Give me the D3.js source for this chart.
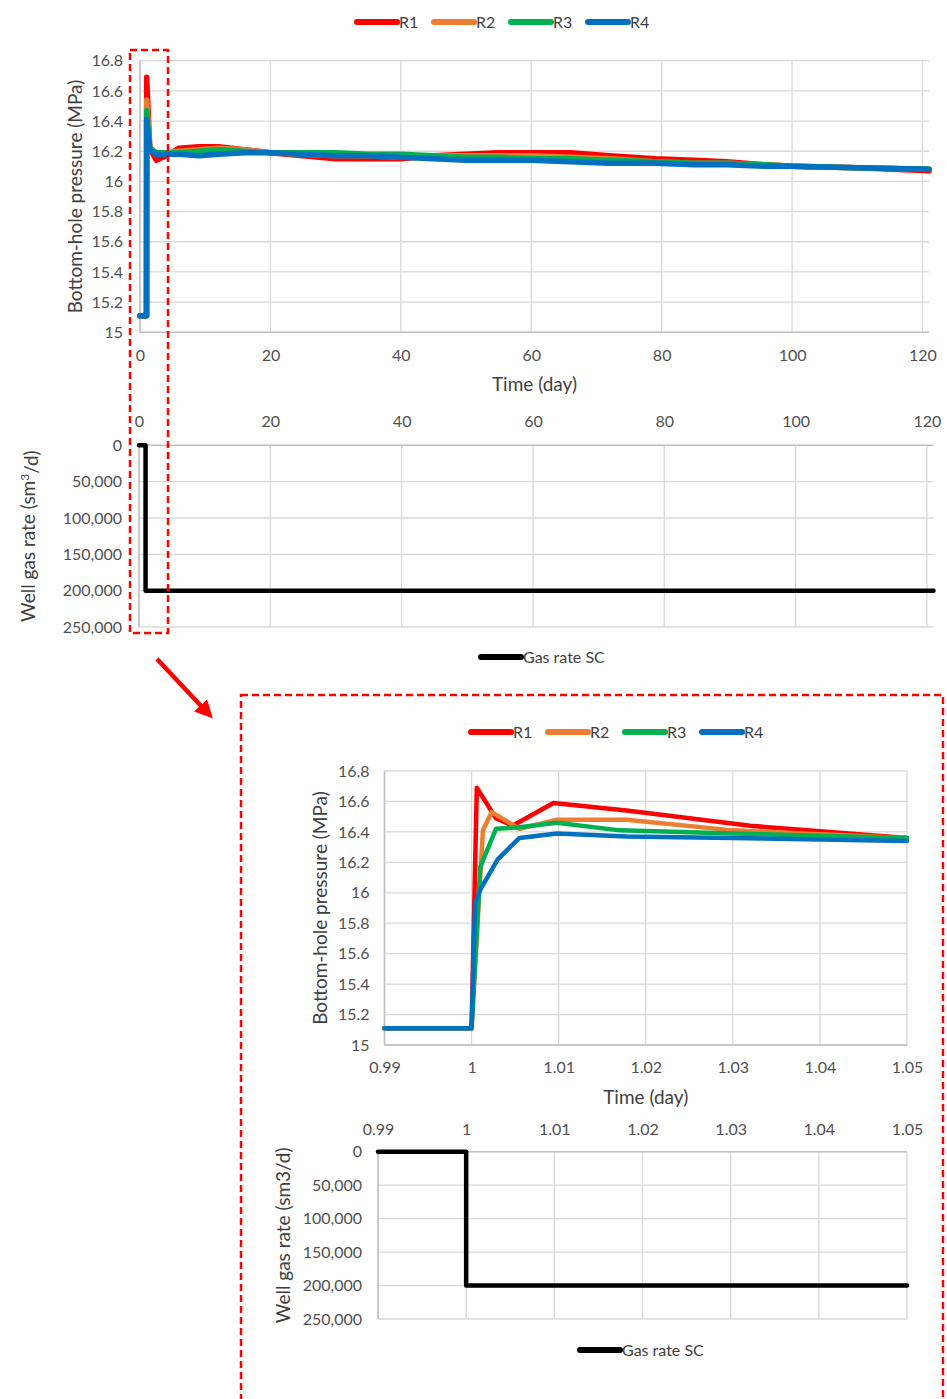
<!DOCTYPE html>
<html>
<head>
<meta charset="utf-8">
<script src="https://cdn.jsdelivr.net/npm/d3@7"></script>
<style>
  body { margin: 0; background: #fff; }
  svg { display: block; font-family: Lato, "Open Sans", sans-serif; }
  .grid { stroke: #d9d9d9; stroke-width: 1.3; }
  .axis-line { stroke: #bfbfbf; stroke-width: 1.5; }
  .tick-labels text { fill: #505050; font-size: 16px; }
  .title { fill: #404040; font-size: 19px; }
  .legend text { fill: #404040; font-size: 16px; }
</style>
</head>
<body>
<div class="figure"></div>
<script>
document.addEventListener("DOMContentLoaded", function () {

  const seriesNames = ["R1", "R2", "R3", "R4"];
  const seriesColors = ["#ff0000", "#ed7d31", "#00b050", "#0070c0"];

  // full 120 day run (shared time steps)
  const dayTime = [0, 1, 1.02, 1.5, 2.5, 4, 6, 9, 12, 16, 20, 25, 30, 35, 40, 45, 50, 55, 60, 66, 72, 79, 85, 90, 96, 100, 110, 121];
  const dayR1 = [15.11, 15.11, 16.69, 16.22, 16.14, 16.17, 16.22, 16.23, 16.23, 16.21, 16.19, 16.17, 16.15, 16.15, 16.15, 16.17, 16.18, 16.19, 16.19, 16.19, 16.17, 16.15, 16.14, 16.13, 16.11, 16.10, 16.09, 16.07];
  const dayR2 = [15.11, 15.11, 16.54, 16.23, 16.18, 16.19, 16.20, 16.21, 16.22, 16.21, 16.19, 16.18, 16.17, 16.17, 16.16, 16.17, 16.17, 16.17, 16.17, 16.16, 16.15, 16.13, 16.12, 16.12, 16.11, 16.10, 16.09, 16.08];
  const dayR3 = [15.11, 15.11, 16.47, 16.22, 16.19, 16.19, 16.19, 16.20, 16.21, 16.20, 16.19, 16.19, 16.19, 16.18, 16.18, 16.17, 16.16, 16.16, 16.15, 16.15, 16.14, 16.13, 16.12, 16.12, 16.11, 16.10, 16.09, 16.08];
  const dayR4 = [15.11, 15.11, 16.41, 16.21, 16.18, 16.18, 16.18, 16.17, 16.18, 16.19, 16.19, 16.18, 16.17, 16.17, 16.16, 16.15, 16.14, 16.14, 16.14, 16.13, 16.12, 16.12, 16.11, 16.11, 16.10, 16.10, 16.09, 16.08];

  const rateTime = [0, 1, 1, 121];
  const rateValue = [0, 0, 200000, 200000];

  // zoom on the start of production (0.99 - 1.05 day)
  const zoomTimeR1 = [0.99, 1.0, 1.0006, 1.0028, 1.0047, 1.0094, 1.0178, 1.032, 1.05];
  const zoomR1 = [15.11, 15.11, 16.69, 16.49, 16.44, 16.59, 16.54, 16.44, 16.36];
  const zoomTimeR2 = [0.99, 1.0, 1.0013, 1.0023, 1.0055, 1.0098, 1.0178, 1.03, 1.05];
  const zoomR2 = [15.11, 15.11, 16.41, 16.53, 16.42, 16.48, 16.48, 16.41, 16.36];
  const zoomTimeR3 = [0.99, 1.0, 1.001, 1.0028, 1.0055, 1.0098, 1.017, 1.03, 1.05];
  const zoomR3 = [15.11, 15.11, 16.17, 16.42, 16.43, 16.46, 16.41, 16.39, 16.36];
  const zoomTimeR4 = [0.99, 1.0, 1.0004, 1.001, 1.003, 1.0055, 1.0098, 1.0178, 1.03, 1.05];
  const zoomR4 = [15.11, 15.11, 15.93, 16.02, 16.22, 16.36, 16.39, 16.37, 16.36, 16.34];

  const zoomRateTime = [0.99, 1.0, 1.0, 1.05];
  const zoomRateValue = [0, 0, 200000, 200000];

  const dayTicks = [0, 20, 40, 60, 80, 100, 120];
  const zoomTicks = [0.99, 1, 1.01, 1.02, 1.03, 1.04, 1.05];
  const pressureTicks = [15, 15.2, 15.4, 15.6, 15.8, 16, 16.2, 16.4, 16.6, 16.8];
  const rateTicks = [0, 50000, 100000, 150000, 200000, 250000];

  const W = 947, H = 1399;

  const svg = d3
    .select(".figure")
    .append("svg")
    .attr("width", W)
    .attr("height", H);

  const toPoints = (xs, ys) => xs.map((t, i) => ({ t: t, v: ys[i] }));

  function drawPanel(o) {
    const g = svg.append("g");
    const [x0, x1] = o.x.range();
    const [yA, yB] = o.y.range();
    const yTop = Math.min(yA, yB), yBot = Math.max(yA, yB);

    g.selectAll(".vgrid")
      .data(o.xTicks)
      .enter()
      .append("line")
      .attr("class", "grid")
      .attr("x1", (d) => o.x(d))
      .attr("x2", (d) => o.x(d))
      .attr("y1", yTop)
      .attr("y2", yBot);

    g.selectAll(".hgrid")
      .data(o.yTicks)
      .enter()
      .append("line")
      .attr("class", "grid")
      .attr("x1", x0)
      .attr("x2", x1)
      .attr("y1", (d) => o.y(d))
      .attr("y2", (d) => o.y(d));

    // axis lines
    g.append("line").attr("class", "axis-line")
      .attr("x1", x0).attr("x2", x0).attr("y1", yTop).attr("y2", yBot);
    const xAxisY = o.xOnTop ? yTop : yBot;
    g.append("line").attr("class", "axis-line")
      .attr("x1", x0).attr("x2", x1).attr("y1", xAxisY).attr("y2", xAxisY);

    const xAxis = (o.xOnTop ? d3.axisTop(o.x) : d3.axisBottom(o.x))
      .tickValues(o.xTicks).tickSize(0).tickPadding(o.xPad).tickFormat((d) => String(d));
    g.append("g")
      .attr("class", "tick-labels")
      .attr("transform", `translate(0,${xAxisY})`)
      .call(xAxis)
      .call((s) => s.select(".domain").remove())
      .attr("font-size", null).attr("font-family", null);

    const yAxis = d3.axisLeft(o.y)
      .tickValues(o.yTicks).tickSize(0).tickPadding(o.yPad).tickFormat(o.yFormat);
    g.append("g")
      .attr("class", "tick-labels")
      .attr("transform", `translate(${x0},0)`)
      .call(yAxis)
      .call((s) => s.select(".domain").remove())
      .attr("font-size", null).attr("font-family", null);

    const line = d3.line().x((d) => o.x(d.t)).y((d) => o.y(d.v));

    o.series.forEach((s) => {
      g.append("path")
        .datum(s.points)
        .attr("fill", "none")
        .attr("stroke", s.color)
        .attr("stroke-width", o.lineWidth)
        .attr("stroke-linejoin", "round")
        .attr("stroke-linecap", "round")
        .attr("d", line);
    });

    // titles
    const yt = g.append("text")
      .attr("class", "title")
      .attr("text-anchor", "middle")
      .attr("transform", `translate(${o.yTitleX},${(yTop + yBot) / 2}) rotate(-90)`)
      .attr("dy", "0.35em");
    o.yTitle(yt);

    if (o.xTitle) {
      g.append("text")
        .attr("class", "title")
        .attr("text-anchor", "middle")
        .attr("x", (x0 + x1) / 2)
        .attr("y", o.xTitleY)
        .attr("dy", "0.35em")
        .text(o.xTitle);
    }

    // legend
    const lg = g.append("g").attr("class", "legend");
    o.legend.forEach((item, i) => {
      const lx = o.legendX + i * o.legendStep;
      lg.append("line")
        .attr("x1", lx).attr("x2", lx + item.len)
        .attr("y1", o.legendY).attr("y2", o.legendY)
        .attr("stroke", item.color)
        .attr("stroke-width", 6)
        .attr("stroke-linecap", "round");
      lg.append("text")
        .attr("x", lx + item.len + 2)
        .attr("y", o.legendY)
        .attr("dy", "0.35em")
        .text(item.name);
    });
  }

  const pressureFmt = (d) => String(d);
  const rateFmt = d3.format(",");

  const pressureLegend = seriesNames.map((n, i) => ({ name: n, color: seriesColors[i], len: 40 }));
  const rateLegend = [{ name: "Gas rate SC", color: "#000", len: 40 }];

  // ---- top: 120 day pressure
  const dayValues = [dayR1, dayR2, dayR3, dayR4];
  drawPanel({
    x: d3.scaleLinear().domain([0, 121]).range([140, 929]),
    y: d3.scaleLinear().domain([15, 16.8]).range([332.3, 60.7]),
    xTicks: dayTicks, yTicks: pressureTicks, yFormat: pressureFmt,
    xPad: 17, yPad: 17, lineWidth: 5.5,
    series: dayValues.map((v, i) => ({ color: seriesColors[i], points: toPoints(dayTime, v) })),
    yTitleX: 75, yTitle: (t) => t.text("Bottom-hole pressure (MPa)"),
    xTitle: "Time (day)", xTitleY: 384,
    legend: pressureLegend, legendX: 357, legendStep: 77, legendY: 22
  });

  // ---- top: 120 day gas rate (reversed axis, labels on top)
  drawPanel({
    x: d3.scaleLinear().domain([0, 121]).range([139, 933.5]),
    y: d3.scaleLinear().domain([0, 250000]).range([445.3, 627]),
    xOnTop: true,
    xTicks: dayTicks, yTicks: rateTicks, yFormat: rateFmt,
    xPad: 18, yPad: 17, lineWidth: 4.5,
    series: [{ color: "#000", points: toPoints(rateTime, rateValue) }],
    yTitleX: 28,
    yTitle: (t) => {
      t.append("tspan").text("Well gas rate (sm");
      t.append("tspan").attr("dy", "-0.45em").attr("font-size", "12px").text("3");
      t.append("tspan").attr("dy", "0.45em").text("/d)");
    },
    legend: rateLegend, legendX: 481, legendStep: 0, legendY: 657
  });

  // ---- zoom: pressure
  const zoomTimes = [zoomTimeR1, zoomTimeR2, zoomTimeR3, zoomTimeR4];
  const zoomValues = [zoomR1, zoomR2, zoomR3, zoomR4];
  drawPanel({
    x: d3.scaleLinear().domain([0.99, 1.05]).range([384.5, 907]),
    y: d3.scaleLinear().domain([15, 16.8]).range([1045, 771]),
    xTicks: zoomTicks, yTicks: pressureTicks, yFormat: pressureFmt,
    xPad: 17, yPad: 15, lineWidth: 4.5,
    series: zoomValues.map((v, i) => ({ color: seriesColors[i], points: toPoints(zoomTimes[i], v) })),
    yTitleX: 320, yTitle: (t) => t.text("Bottom-hole pressure (MPa)"),
    xTitle: "Time (day)", xTitleY: 1097,
    legend: pressureLegend, legendX: 471, legendStep: 77, legendY: 732
  });

  // ---- zoom: gas rate
  drawPanel({
    x: d3.scaleLinear().domain([0.99, 1.05]).range([378, 907]),
    y: d3.scaleLinear().domain([0, 250000]).range([1151.7, 1319]),
    xOnTop: true,
    xTicks: zoomTicks, yTicks: rateTicks, yFormat: rateFmt,
    xPad: 17, yPad: 16, lineWidth: 4.5,
    series: [{ color: "#000", points: toPoints(zoomRateTime, zoomRateValue) }],
    yTitleX: 283, yTitle: (t) => t.text("Well gas rate (sm3/d)"),
    legend: rateLegend, legendX: 580, legendStep: 0, legendY: 1350
  });

  // ---- red annotations
  const red = "#ff0000";
  svg.append("rect")
    .attr("x", 130).attr("y", 50).attr("width", 38).attr("height", 583)
    .attr("fill", "none").attr("stroke", red).attr("stroke-width", 2.5)
    .attr("stroke-dasharray", "7,4");

  svg.append("rect")
    .attr("x", 241).attr("y", 695).attr("width", 702).attr("height", 740)
    .attr("fill", "none").attr("stroke", red).attr("stroke-width", 2.5)
    .attr("stroke-dasharray", "7,4");

  svg.append("defs")
    .append("marker")
    .attr("id", "arrow")
    .attr("viewBox", "0 0 10 10")
    .attr("refX", 2).attr("refY", 5)
    .attr("markerWidth", 4).attr("markerHeight", 4)
    .attr("orient", "auto")
    .append("path")
    .attr("d", "M0,0L10,5L0,10Z")
    .attr("fill", red);

  svg.append("line")
    .attr("x1", 157).attr("y1", 659).attr("x2", 203).attr("y2", 708)
    .attr("stroke", red).attr("stroke-width", 4.5)
    .attr("marker-end", "url(#arrow)");
});
</script>
</body>
</html>
